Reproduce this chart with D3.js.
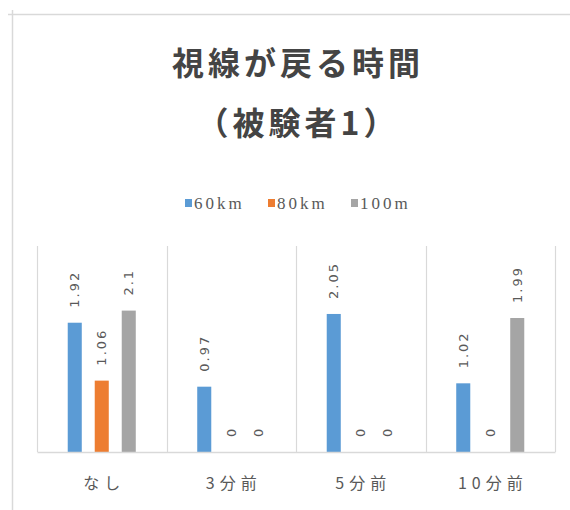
<!DOCTYPE html>
<html>
<head>
<meta charset="utf-8">
<script src="https://cdn.jsdelivr.net/npm/d3@7"></script>
<style>
  html, body { margin: 0; padding: 0; background: #fff; }
  svg { display: block; }
</style>
</head>
<body>
<div id="chart"></div>
<script>
// Chart data
const categories = ["なし", "3分前", "5分前", "10分前"];
const seriesNames = ["60km", "80km", "100m"];
const values60km = [1.92, 0.97, 2.05, 1.02];
const values80km = [1.06, 0, 0, 0];
const values100m = [2.1, 0, 0, 1.99];
const seriesColors = ["#5B9BD5", "#ED7D31", "#A5A5A5"];
const titleLines = ["視線が戻る時間", "（被験者1）"];

const seriesValues = [values60km, values80km, values100m];

const width = 570, height = 510;
const plot = { left: 37, right: 555, top: 250, bottom: 452 };

const svg = d3.select("#chart").append("svg")
  .attr("width", width)
  .attr("height", height);

// chart area frame (top and left edges)
svg.append("line")
  .attr("x1", 8).attr("x2", width).attr("y1", 14.5).attr("y2", 14.5)
  .attr("stroke", "#d9d9d9").attr("stroke-width", 1.5);
svg.append("line")
  .attr("x1", 12.5).attr("x2", 12.5).attr("y1", 10).attr("y2", height)
  .attr("stroke", "#d9d9d9").attr("stroke-width", 1.5);

// title
const titleFont = "'Noto Sans CJK JP', 'Noto Sans CJK SC', sans-serif";
svg.append("g").selectAll("text")
  .data(titleLines)
  .join("text")
  .attr("x", 296)
  .attr("y", (d, i) => 75 + i * 60)
  .attr("text-anchor", "middle")
  .attr("font-family", titleFont)
  .attr("font-weight", 700)
  .attr("font-size", 32)
  .attr("letter-spacing", 4)
  .attr("dx", 2)
  .attr("fill", "#444")
  .text(d => d);

// legend
const legend = svg.append("g").attr("transform", "translate(185,203)");
const legendStep = 83;
const legendItems = legend.selectAll("g")
  .data(seriesNames)
  .join("g")
  .attr("transform", (d, i) => `translate(${i * legendStep},0)`);
legendItems.append("rect")
  .attr("x", 0).attr("y", -4).attr("width", 7).attr("height", 8)
  .attr("fill", (d, i) => seriesColors[i]);
legendItems.append("text")
  .attr("x", 9).attr("y", 6)
  .attr("font-family", "'Liberation Serif', 'DejaVu Serif', serif")
  .attr("font-size", 17)
  .attr("letter-spacing", 3)
  .attr("fill", "#595959")
  .text(d => d);

// scales
const x0 = d3.scaleBand()
  .domain(categories)
  .range([plot.left, plot.right])
  .padding(0);
const bw = x0.bandwidth();
const x1 = d3.scaleBand()
  .domain(seriesNames)
  .range([bw / 2 - 40.5, bw / 2 + 40.5])
  .paddingInner(0.48)
  .paddingOuter(0.24);
const y = d3.scaleLinear().domain([0, 3]).range([plot.bottom, plot.top]);

// category separators
svg.append("g").selectAll("line")
  .data(d3.range(categories.length + 1))
  .join("line")
  .attr("x1", i => Math.round(plot.left + i * bw) + 0.5)
  .attr("x2", i => Math.round(plot.left + i * bw) + 0.5)
  .attr("y1", 246)
  .attr("y2", plot.bottom)
  .attr("stroke", "#d9d9d9")
  .attr("stroke-width", 1.2);

// bars
const groups = svg.append("g").selectAll("g")
  .data(categories)
  .join("g")
  .attr("transform", d => `translate(${x0(d)},0)`);

const cells = groups.selectAll("g")
  .data((c, ci) => seriesNames.map((s, si) => ({ s, si, v: seriesValues[si][ci] })))
  .join("g");

cells.append("rect")
  .attr("x", d => x1(d.s))
  .attr("width", x1.bandwidth())
  .attr("y", d => y(d.v))
  .attr("height", d => y(0) - y(d.v))
  .attr("fill", d => seriesColors[d.si]);

// value labels, rotated
cells.append("text")
  .attr("transform", d => `translate(${x1(d.s) + x1.bandwidth() / 2},${y(d.v) - 15}) rotate(-90)`)
  .attr("dy", "0.35em")
  .attr("text-anchor", "start")
  .attr("font-family", "'DejaVu Sans', sans-serif")
  .attr("font-size", 13)
  .attr("letter-spacing", 2)
  .attr("fill", "#595959")
  .text(d => d.v);

// category axis
const xAxis = d3.axisBottom(x0).tickSize(0).tickPadding(0);
const axisG = svg.append("g")
  .attr("transform", `translate(0,${plot.bottom})`)
  .call(xAxis);
axisG.select(".domain").attr("stroke", "#d9d9d9").attr("stroke-width", 1.5);
axisG.selectAll(".tick text")
  .attr("y", 37)
  .attr("dy", 0)
  .attr("dx", 2.5)
  .attr("font-family", "'Noto Sans CJK JP', sans-serif")
  .attr("font-size", 16)
  .attr("letter-spacing", 5)
  .attr("fill", "#595959");
</script>
</body>
</html>
